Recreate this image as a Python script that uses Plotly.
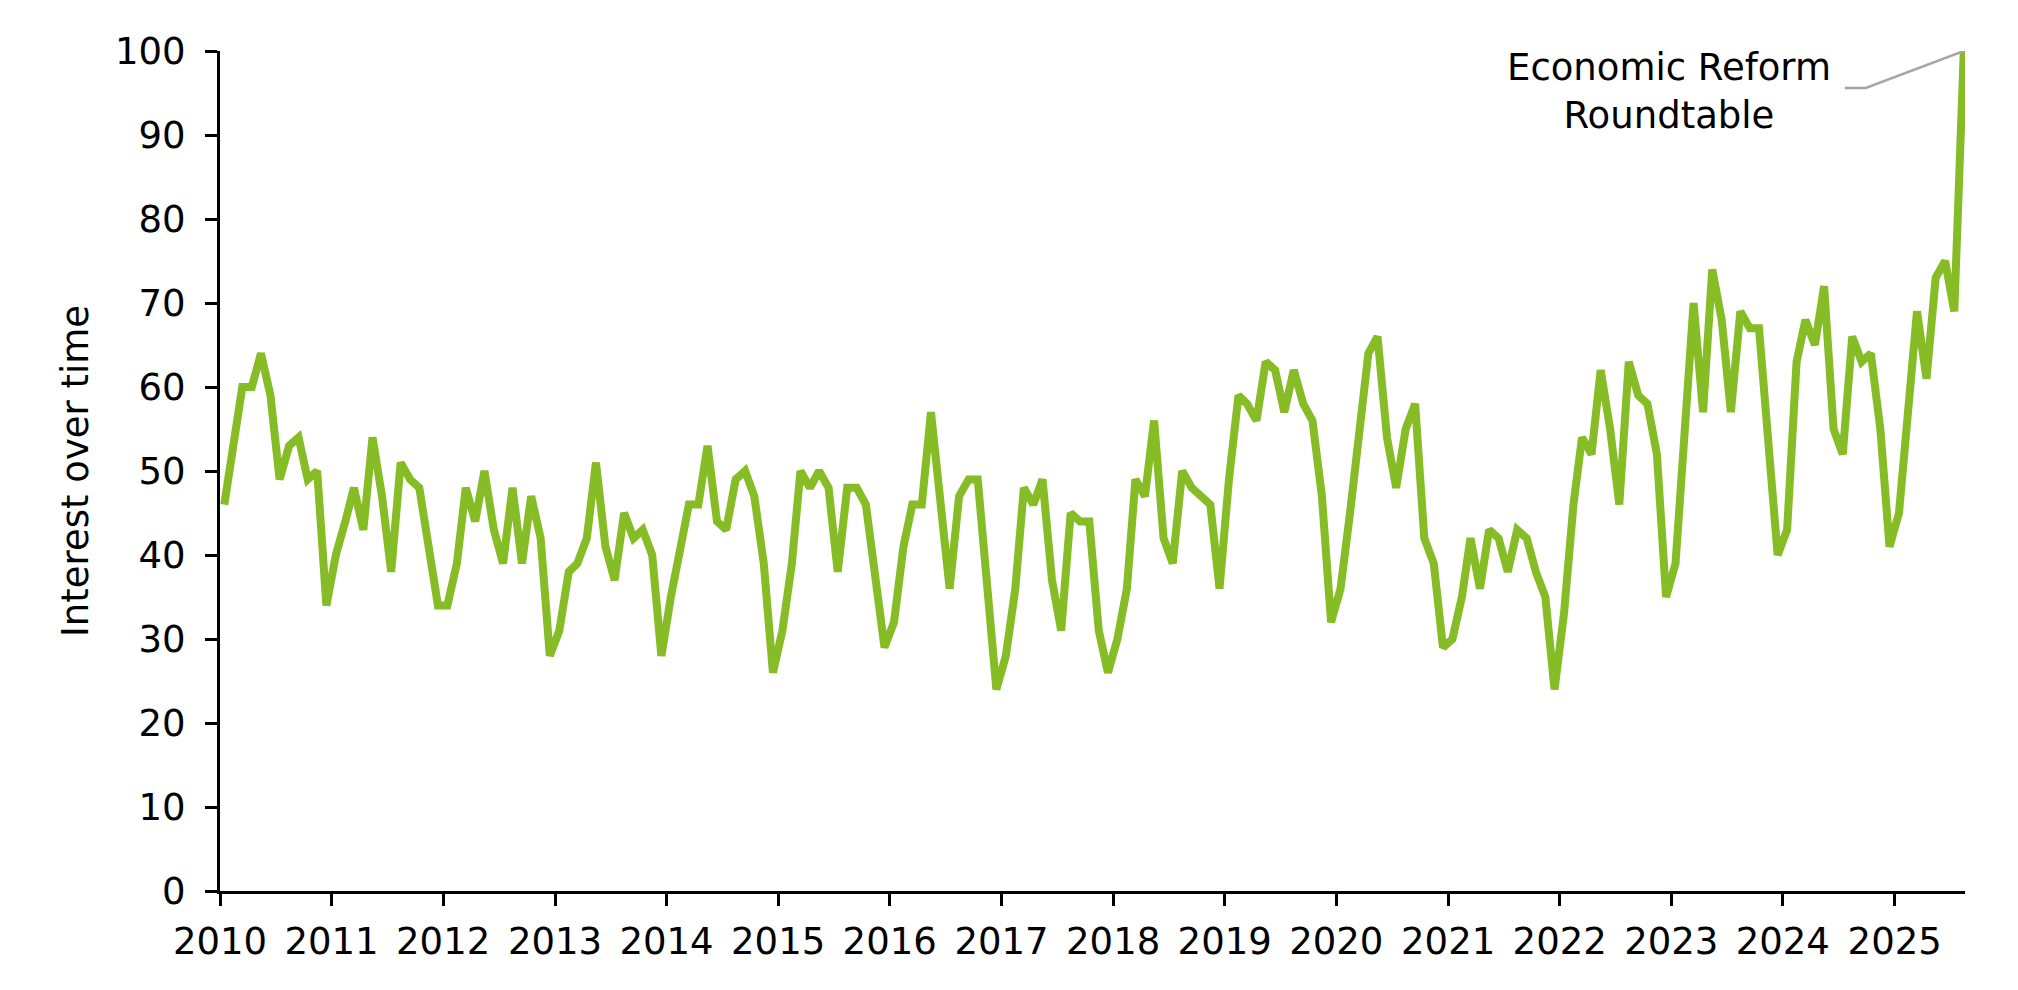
import pandas as pd
import plotly.graph_objects as go

# Monthly interest values, Jan 2010 - Aug 2025
v2010 = [46, 53, 60, 60, 64, 59, 49, 53, 54, 49, 50, 34]
v2011 = [40, 44, 48, 43, 54, 47, 38, 51, 49, 48, 41, 34]
v2012 = [34, 39, 48, 44, 50, 43, 39, 48, 39, 47, 42, 28]
v2013 = [31, 38, 39, 42, 51, 41, 37, 45, 42, 43, 40, 28]
v2014 = [35, 41, 46, 46, 53, 44, 43, 49, 50, 47, 39, 26]
v2015 = [31, 39, 50, 48, 50, 48, 38, 48, 48, 46, 38, 29]
v2016 = [32, 41, 46, 46, 57, 47, 36, 47, 49, 49, 37, 24]
v2017 = [28, 36, 48, 46, 49, 37, 31, 45, 44, 44, 31, 26]
v2018 = [30, 36, 49, 47, 56, 42, 39, 50, 48, 47, 46, 36]
v2019 = [49, 59, 58, 56, 63, 62, 57, 62, 58, 56, 47, 32]
v2020 = [36, 45, 54, 64, 66, 54, 48, 55, 58, 42, 39, 29]
v2021 = [30, 35, 42, 36, 43, 42, 38, 43, 42, 38, 35, 24]
v2022 = [33, 46, 54, 52, 62, 55, 46, 63, 59, 58, 52, 35]
v2023 = [39, 56, 70, 57, 74, 68, 57, 69, 67, 67, 54, 40]
v2024 = [43, 63, 68, 65, 72, 55, 52, 66, 63, 64, 55, 41]
v2025 = [45, 58, 69, 61, 73, 75, 69, 100]

values = (v2010 + v2011 + v2012 + v2013 + v2014 + v2015 + v2016 + v2017 +
          v2018 + v2019 + v2020 + v2021 + v2022 + v2023 + v2024 + v2025)
months = pd.date_range("2010-01-01", periods=len(values), freq="MS") + pd.Timedelta(days=14)

years = list(range(2010, 2026))
year_ticks = [f"{y}-01-01" for y in years]
year_labels = [str(y) for y in years]
y_ticks = list(range(0, 101, 10))

annotation_text = "Economic Reform<br>Roundtable"
y_title = "Interest over time"

GREEN = "#86BC25"
FONT = "DejaVu Sans"
FS = 37

fig = go.Figure()
fig.add_trace(go.Scatter(
    x=months, y=values, mode="lines",
    line=dict(color=GREEN, width=8),
    hoverinfo="x+y", showlegend=False,
))

peak_x = months[-1]
peak_y = values[-1]

fig.add_annotation(
    x=peak_x, y=peak_y, xref="x", yref="y",
    text=annotation_text, showarrow=False,
    xanchor="center", yanchor="middle",
    xshift=-295, yshift=-40,
    font=dict(family=FONT, size=FS, color="black"),
)
fig.add_shape(
    type="path", xref="x", yref="y",
    xsizemode="pixel", ysizemode="pixel",
    xanchor=peak_x, yanchor=peak_y,
    path="M0,0 L-98,-37 L-119,-37",
    line=dict(color="#A6A6A6", width=2.5),
)

fig.update_layout(
    width=2018, height=990,
    margin=dict(l=220, r=53, t=51, b=99),
    paper_bgcolor="white", plot_bgcolor="white",
    font=dict(family=FONT, size=FS, color="black"),
    xaxis=dict(
        type="date",
        range=["2010-01-01", "2025-08-19"],
        tickvals=year_ticks, ticktext=year_labels,
        showgrid=False, zeroline=False,
        showline=True, linecolor="black", linewidth=3,
        ticks="outside", ticklen=12, tickwidth=3, tickcolor="black",
        ticklabelstandoff=4,
        tickfont=dict(family=FONT, size=FS, color="black"),
    ),
    yaxis=dict(
        range=[0, 100],
        tickvals=y_ticks,
        showgrid=False, zeroline=False,
        showline=True, linecolor="black", linewidth=3,
        ticks="outside", ticklen=12, tickwidth=3, tickcolor="black",
        ticklabelstandoff=12,
        tickfont=dict(family=FONT, size=FS, color="black"),
        title=dict(text=y_title, font=dict(family=FONT, size=FS, color="black"), standoff=16),
    ),
)

fig.write_html("out.html", config={"displayModeBar": False},
               post_script="document.body.style.margin='0';")
